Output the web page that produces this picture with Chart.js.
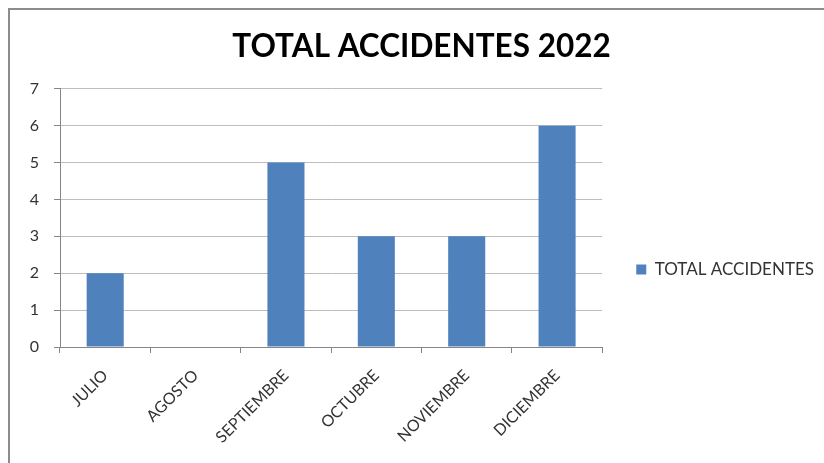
<!DOCTYPE html>
<html>
<head>
<meta charset="utf-8">
<script src="https://cdn.jsdelivr.net/npm/chart.js@4.4.0/dist/chart.umd.js"></script>
<style>
  body { margin: 0; background: #ffffff; overflow: hidden; }
  .wrap { position: relative; width: 824px; height: 463px; }
  .frame {
    position: absolute; left: 8px; top: 8px; width: 900px; height: 500px;
    border-left: 2px solid #8c8c8c; border-top: 2px solid #8c8c8c;
    pointer-events: none;
  }
  canvas { position: absolute; left: 0; top: 0; }
</style>
</head>
<body>
<div class="wrap">
  <canvas id="chart" width="824" height="463"></canvas>
  <div class="frame"></div>
</div>
<script>
// chart data
const months = ['JULIO', 'AGOSTO', 'SEPTIEMBRE', 'OCTUBRE', 'NOVIEMBRE', 'DICIEMBRE'];
const accidents = [2, 0, 5, 3, 3, 6];
const seriesName = 'TOTAL ACCIDENTES';
const chartTitle = 'TOTAL ACCIDENTES 2022';

const FONT = 'Lato, "Open Sans", sans-serif';
const AXIS = '#868686';
const GRID = '#bdbdbd';
const TEXT = '#333333';

const ctx = document.getElementById('chart').getContext('2d');

new Chart(ctx, {
  type: 'bar',
  data: {
    labels: months,
    datasets: [{
      label: seriesName,
      data: accidents,
      backgroundColor: '#4F81BD',
      borderWidth: 0,
      barPercentage: 0.41,
      categoryPercentage: 1,
    }],
  },
  options: {
    responsive: false,
    animation: false,
    layout: {padding: {left: 19, top: 0, right: 0, bottom: 0}},
    plugins: {
      title: {
        display: true,
        text: chartTitle,
        color: '#000000',
        font: {family: FONT, size: 31.5, weight: 'bold', lineHeight: 1.2},
        padding: {top: 28, bottom: 23},
      },
      legend: {
        position: 'right',
        maxWidth: 240,
        // empty legend title only pushes the entry down to where Excel puts it
        title: {display: true, text: ' ', font: {size: 10, lineHeight: 1.2}, padding: {top: 64, bottom: 0}},
        labels: {
          boxWidth: 10,
          boxHeight: 10,
          padding: 34,
          color: TEXT,
          font: {family: FONT, size: 17},
        },
      },
      tooltip: {enabled: false},
    },
    scales: {
      x: {
        afterFit: scale => { scale.height = 116; },
        grid: {
          offset: true,
          drawOnChartArea: false,
          drawTicks: true,
          tickLength: 6,
          color: AXIS,
        },
        border: {color: AXIS},
        ticks: {
          minRotation: 45,
          maxRotation: 45,
          autoSkip: false,
          color: TEXT,
          font: {family: FONT, size: 16},
          padding: 13,
        },
      },
      y: {
        min: 0,
        max: 7,
        afterFit: scale => { scale.width = 41; },
        grid: {
          color: GRID,
          tickColor: AXIS,
          tickLength: 6,
        },
        border: {color: AXIS},
        ticks: {
          stepSize: 1,
          color: TEXT,
          font: {family: FONT, size: 16},
          padding: 15,
        },
      },
    },
  },
});
</script>
</body>
</html>
